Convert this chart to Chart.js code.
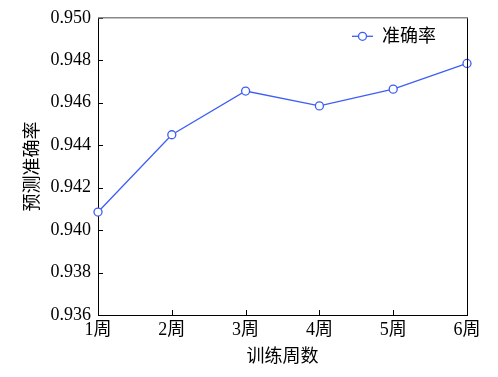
<!DOCTYPE html>
<html>
<head>
<meta charset="utf-8">
<script src="https://cdn.jsdelivr.net/npm/chart.js@4"></script>
<style>
  html, body { margin: 0; padding: 0; background: #fff; }
</style>
</head>
<body>
<canvas id="accChart" width="498" height="377"></canvas>
<script>
const weeks = ['1周', '2周', '3周', '4周', '5周', '6周'];
const accuracy = [0.94085, 0.94449, 0.94655, 0.94585, 0.94664, 0.94785];
const yMin = 0.936;
const yMax = 0.950;
const yStep = 0.002;

const lineColor = '#3d5ef5';
const fontFamily = '"Liberation Serif", "Noto Sans CJK SC", serif';

// inward ticks, top/right frame and the legend box in the upper right
const framePlugin = {
  id: 'frame',
  afterDraw(chart) {
    const { ctx, chartArea: a, scales } = chart;
    ctx.save();
    ctx.lineWidth = 1;
    ctx.strokeStyle = '#000';
    ctx.beginPath();
    scales.y.ticks.forEach((t, i) => {
      const y = Math.round(scales.y.getPixelForTick(i)) + 0.5;
      ctx.moveTo(a.left, y); ctx.lineTo(a.left + 5, y);
    });
    scales.x.ticks.forEach((t, i) => {
      const x = Math.round(scales.x.getPixelForTick(i)) + 0.5;
      ctx.moveTo(x, a.bottom); ctx.lineTo(x, a.bottom - 5);
    });
    ctx.moveTo(a.right + 0.5, a.top); ctx.lineTo(a.right + 0.5, a.bottom);
    ctx.stroke();
    ctx.strokeStyle = '#888';
    ctx.lineWidth = 1.5;
    ctx.beginPath();
    ctx.moveTo(a.left, a.top); ctx.lineTo(a.right + 1, a.top);
    ctx.stroke();

    // legend
    const ds = chart.data.datasets[0];
    const lx = a.right - 115, ly = a.top + 18;
    ctx.strokeStyle = lineColor;
    ctx.lineWidth = 1.3;
    ctx.beginPath();
    ctx.moveTo(lx, ly + 0.5); ctx.lineTo(lx + 21, ly + 0.5);
    ctx.stroke();
    ctx.beginPath();
    ctx.arc(lx + 10.5, ly + 0.5, 4, 0, Math.PI * 2);
    ctx.fillStyle = '#fff';
    ctx.fill();
    ctx.stroke();
    ctx.fillStyle = '#000';
    ctx.font = '18px ' + fontFamily;
    ctx.textBaseline = 'middle';
    ctx.textAlign = 'left';
    ctx.fillText(ds.label, lx + 30, ly + 1);
    ctx.restore();
  }
};

new Chart(document.getElementById('accChart').getContext('2d'), {
  type: 'line',
  data: {
    labels: weeks,
    datasets: [{
      label: '准确率',
      data: accuracy,
      borderColor: lineColor,
      borderWidth: 1.3,
      pointRadius: 4,
      pointBorderWidth: 1.3,
      pointBackgroundColor: '#fff',
      pointBorderColor: lineColor,
      tension: 0,
      fill: false,
      clip: false
    }]
  },
  options: {
    responsive: false,
    animation: false,
    devicePixelRatio: 1,
    layout: { padding: { top: 15, right: 31, left: 0, bottom: 0 } },
    plugins: {
      legend: { display: false },
      tooltip: { enabled: false }
    },
    scales: {
      x: {
        offset: false,
        grid: { display: false, drawTicks: false },
        border: { color: '#000', width: 1 },
        ticks: {
          color: '#000',
          font: { family: fontFamily, size: 18 },
          padding: 4,
          maxRotation: 0
        },
        title: {
          display: true,
          text: '训练周数',
          color: '#000',
          font: { family: fontFamily, size: 18 },
          padding: { top: 4, bottom: 9 }
        },
        afterFit(scale) { scale.height = 62; }
      },
      y: {
        min: yMin,
        max: yMax,
        grid: { display: false, drawTicks: false },
        border: { color: '#000', width: 1 },
        ticks: {
          stepSize: yStep,
          color: '#000',
          font: { family: fontFamily, size: 18 },
          padding: 7,
          callback: (v) => v.toFixed(3)
        },
        title: {
          display: true,
          text: '预测准确率',
          color: '#000',
          font: { family: fontFamily, size: 18 },
          padding: { top: 22, bottom: 4 }
        },
        afterFit(scale) { scale.width = 98; }
      }
    }
  },
  plugins: [framePlugin]
});
</script>
</body>
</html>
